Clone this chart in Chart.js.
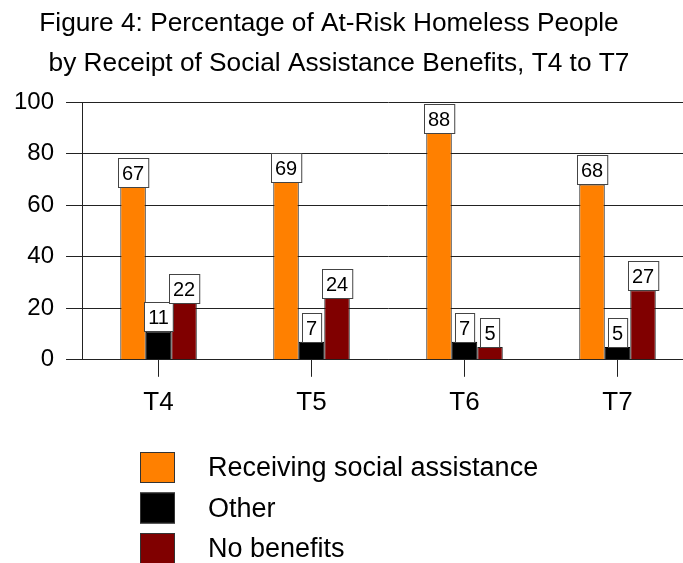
<!DOCTYPE html>
<html>
<head>
<meta charset="utf-8">
<script src="https://cdn.jsdelivr.net/npm/chart.js@4/dist/chart.umd.min.js"></script>
<style>
  html, body { margin: 0; padding: 0; background: #fff; overflow: hidden; }
  #wrap { position: relative; width: 683px; height: 563px; overflow: hidden; }
</style>
</head>
<body>
<div id="wrap">
  <canvas id="myChart" width="700" height="563"></canvas>
</div>
<script>
const categories = ['T4', 'T5', 'T6', 'T7']
const receiving = [67, 69, 88, 68]
const other = [11, 7, 7, 5]
const noBenefits = [22, 24, 5, 27]
const titleLines = [
  'Figure 4: Percentage of At-Risk Homeless People',
  'by Receipt of Social Assistance Benefits, T4 to T7'
]

const FONT = '"Liberation Sans", Arial, sans-serif'

// two line title, each line placed like in the original figure
const titlePlugin = {
  id: 'figTitle',
  afterDraw (chart) {
    const { ctx } = chart
    ctx.save()
    ctx.fillStyle = '#000'
    ctx.font = '26px ' + FONT
    ctx.textAlign = 'center'
    ctx.textBaseline = 'alphabetic'
    const spots = [[329, 31], [339, 71]]
    titleLines.forEach((line, i) => {
      ctx.save()
      ctx.translate(spots[i][0], spots[i][1])
      ctx.scale(1.01, 1)
      ctx.fillText(line, 0, 0)
      ctx.restore()
    })
    ctx.restore()
  }
}

// boxed value labels on top of every bar
const boxLabels = {
  id: 'boxLabels',
  afterDatasetsDraw (chart) {
    const { ctx } = chart
    ctx.save()
    ctx.font = '20px ' + FONT
    ctx.textAlign = 'center'
    ctx.textBaseline = 'middle'
    chart.data.datasets.forEach((ds, i) => {
      chart.getDatasetMeta(i).data.forEach((bar, j) => {
        const text = String(ds.data[j])
        const w = ctx.measureText(text).width + 8
        const h = 29
        const x = Math.round(bar.x - w / 2) + 0.5
        const y = Math.round(bar.y - h) + 0.5
        ctx.fillStyle = '#fff'
        ctx.fillRect(x, y, w, h)
        ctx.strokeStyle = '#444'
        ctx.lineWidth = 1
        ctx.strokeRect(x, y, w, h)
        ctx.fillStyle = '#000'
        ctx.fillText(text, bar.x, y + h / 2 + 1)
      })
    })
    ctx.restore()
  }
}

// vertical legend under the chart
const sideLegend = {
  id: 'sideLegend',
  afterDraw (chart) {
    const { ctx } = chart
    ctx.save()
    ctx.font = '27px ' + FONT
    ctx.textAlign = 'left'
    ctx.textBaseline = 'alphabetic'
    chart.data.datasets.forEach((ds, i) => {
      const top = 452 + i * 40.5
      ctx.fillStyle = ds.backgroundColor
      ctx.fillRect(140, top, 35, 31)
      ctx.strokeStyle = '#333'
      ctx.lineWidth = 1
      ctx.strokeRect(140.5, top + 0.5, 34, 30)
      ctx.fillStyle = '#000'
      ctx.fillText(ds.label, 208, top + 24)
    })
    ctx.restore()
  }
}

const ctx = document.getElementById('myChart')

new Chart(ctx, {
  type: 'bar',
  data: {
    labels: categories,
    datasets: [
      { label: 'Receiving social assistance', data: receiving, backgroundColor: '#FF8000', borderColor: '#222', borderWidth: 1 },
      { label: 'Other', data: other, backgroundColor: '#000000', borderColor: '#000', borderWidth: 1 },
      { label: 'No benefits', data: noBenefits, backgroundColor: '#800000', borderColor: '#222', borderWidth: 1 }
    ]
  },
  plugins: [titlePlugin, boxLabels, sideLegend],
  options: {
    responsive: false,
    animation: false,
    layout: {
      padding: { top: 102, left: 2, right: 6, bottom: 135 }
    },
    datasets: {
      bar: { categoryPercentage: 0.5, barPercentage: 1 }
    },
    plugins: {
      legend: { display: false },
      title: { display: false },
      tooltip: { enabled: false }
    },
    scales: {
      x: {
        grid: { drawOnChartArea: false, offset: false, tickLength: 17, color: '#222' },
        border: { display: true, color: '#222' },
        ticks: { color: '#000', padding: 10, font: { size: 26, family: FONT } }
      },
      y: {
        min: 0,
        max: 100,
        grid: { color: '#222', tickLength: 16 },
        border: { display: true, color: '#222' },
        ticks: { stepSize: 20, color: '#000', padding: 12, font: { size: 24, family: FONT } }
      }
    }
  }
})
</script>
</body>
</html>
